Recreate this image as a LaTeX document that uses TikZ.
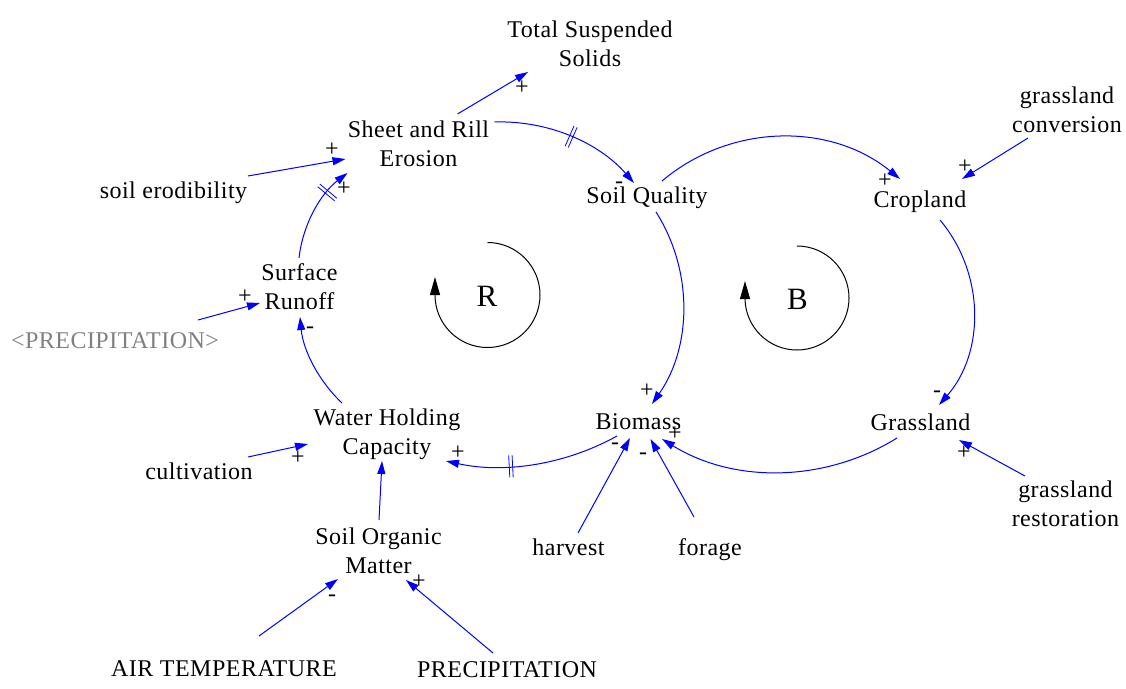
\documentclass[tikz,border=0pt]{standalone}
\usepackage{fontspec}
\setmainfont[LetterSpace=2]{Liberation Serif}
\usetikzlibrary{arrows.meta,decorations.markings}
\newcommand{\twol}[2]{\begin{tabular}[b]{@{}c@{}}#1\\#2\end{tabular}}
\tikzset{
  var/.style={anchor=base, inner sep=0pt},
  pol/.style={anchor=base, inner sep=0pt},
  lnk/.style={draw=blue, line width=1pt, -{Triangle[length=13pt,width=8pt]}},
  dmark/.style={postaction={decorate}, decoration={markings, mark=at position #1 with {\draw[blue,line width=0.8pt,-] (-1.7pt,-11pt)--(-1.7pt,11pt) (1.7pt,-11pt)--(1.7pt,11pt);}}},
  loopc/.style={draw=black, line width=1pt, -{Triangle[length=18pt,width=10pt]}},
  bigl/.style={anchor=base, inner sep=0pt, font=\fontsize{31}{36}\selectfont},
}
\begin{document}
\begin{tikzpicture}[x=1pt,y=1pt,font=\fontsize{24}{29}\selectfont]
\useasboundingbox (0,0) rectangle (1126,-688);
% variables
\node[var] (tss) at (590,-66) {\twol{Total Suspended}{Solids}};
\node[var] (sr) at (418.5,-166) {\twol{Sheet and Rill}{Erosion}};
\node[var] (se) at (173.5,-198) {soil erodibility};
\node[var] (sq) at (647,-203) {Soil Quality};
\node[var] (cl) at (920,-207) {Cropland};
\node[var] (gc) at (1067,-132) {\twol{grassland}{conversion}};
\node[var] (ro) at (299.5,-309) {\twol{Surface}{Runoff}};
\node[var, text=black!50] (pp) at (115,-348) {<PRECIPITATION>};
\node[var] (whc) at (387,-454) {\twol{Water Holding}{Capacity}};
\node[var] (bm) at (638.5,-429) {Biomass};
\node[var] (gl) at (920.5,-430) {Grassland};
\node[var] (cu) at (199,-479) {cultivation};
\node[var] (gr) at (1065.5,-526) {\twol{grassland}{restoration}};
\node[var] (som) at (378.5,-573) {\twol{Soil Organic}{Matter}};
\node[var] (hv) at (568.5,-555) {harvest};
\node[var] (fo) at (710,-555) {forage};
\node[var] (at) at (224,-676) {AIR TEMPERATURE};
\node[var] (pr) at (507,-677) {PRECIPITATION};
% loop markers
\node[bigl] (lr) at (487,-306) {R};
\node[bigl] (lb) at (797.5,-309) {B};
\draw[loopc] (487.5,-242.5) arc[start angle=90, end angle=-180, radius=52.5] -- ++(0,18);
\draw[loopc] (797,-246) arc[start angle=90, end angle=-180, radius=52] -- ++(0,17);
% connectors
\draw[lnk] ([shift={(39,52)}]sr.base) -- ([shift={(-62,-6)}]tss.base);
\draw[lnk, dmark=0.5] ([shift={(76,44)}]sr.base) .. controls +(1.9:53.5) and +(131.1:53.5) .. ([shift={(-13,20)}]sq.base);
\draw[lnk] ([shift={(15,22)}]sq.base) .. controls +(40.2:89.7) and +(140.8:89.7) .. ([shift={(-20,28)}]cl.base);
\draw[lnk] ([shift={(-39,-6)}]gc.base) -- ([shift={(42,28)}]cl.base);
\draw[lnk] ([shift={(20,-13)}]cl.base) .. controls +(-50:70) and +(49:70) .. ([shift={(18.5,25)}]gl.base);
\draw[lnk] ([shift={(9,-9)}]sq.base) .. controls +(-57.6:69.8) and +(55.2:69.8) .. ([shift={(13.5,25)}]bm.base);
\draw[lnk] ([shift={(-23.5,-8)}]gl.base) .. controls +(-148.2:84.7) and +(-31.8:84.7) .. ([shift={(23.5,-10)}]bm.base);
\draw[lnk, dmark=0.63] ([shift={(-21.5,-7)}]bm.base) .. controls +(-151:59.5) and +(-12.4:59.5) .. ([shift={(59,-7)}]whc.base);
\draw[lnk] ([shift={(9.5,22)}]hv.base) -- ([shift={(-8.5,-9)}]bm.base);
\draw[lnk] ([shift={(-16,38)}]fo.base) -- ([shift={(12,-10)}]bm.base);
\draw[lnk] ([shift={(-40.5,50)}]gr.base) -- ([shift={(38.5,-10)}]gl.base);
\draw[lnk] ([shift={(-45,51)}]whc.base) .. controls +(136.6:33) and +(-84.6:33) .. ([shift={(0.5,-8)}]ro.base);
\draw[lnk, dmark=0.72] ([shift={(-0.5,51)}]ro.base) .. controls +(83.5:34) and +(-142.5:34) .. ([shift={(-71,-7)}]sr.base);
\draw[lnk] ([shift={(74.5,22)}]se.base) -- ([shift={(-73,7)}]sr.base);
\draw[lnk] ([shift={(83,28)}]pp.base) -- ([shift={(-39.5,6)}]ro.base);
\draw[lnk] ([shift={(49,22)}]cu.base) -- ([shift={(-79,10)}]whc.base);
\draw[lnk] ([shift={(0.5,53)}]som.base) -- ([shift={(-5,-7)}]whc.base);
\draw[lnk] ([shift={(35,40)}]at.base) -- ([shift={(-40.5,-6)}]som.base);
\draw[lnk] ([shift={(-14,24)}]pr.base) -- ([shift={(27.5,-7)}]som.base);
% polarities
\node[pol] (p1) at (522,-94) {+};
\node[pol] (p2) at (619,-188) {-};
\node[pol] (p3) at (885,-187) {+};
\node[pol] (p4) at (965,-173) {+};
\node[pol] (p5) at (937,-397) {-};
\node[pol] (p6) at (647,-397) {+};
\node[pol] (p7) at (675,-440) {+};
\node[pol] (p8) at (458,-459) {+};
\node[pol] (p9) at (615,-449) {-};
\node[pol] (p10) at (643,-459) {-};
\node[pol] (p11) at (310,-333) {-};
\node[pol] (p12) at (344,-195) {+};
\node[pol] (p13) at (332,-156) {+};
\node[pol] (p14) at (245,-303) {+};
\node[pol] (p15) at (298,-464) {+};
\node[pol] (p16) at (332,-601) {-};
\node[pol] (p17) at (419,-588) {+};
\node[pol] (p18) at (964,-459) {+};
\end{tikzpicture}
\end{document}
